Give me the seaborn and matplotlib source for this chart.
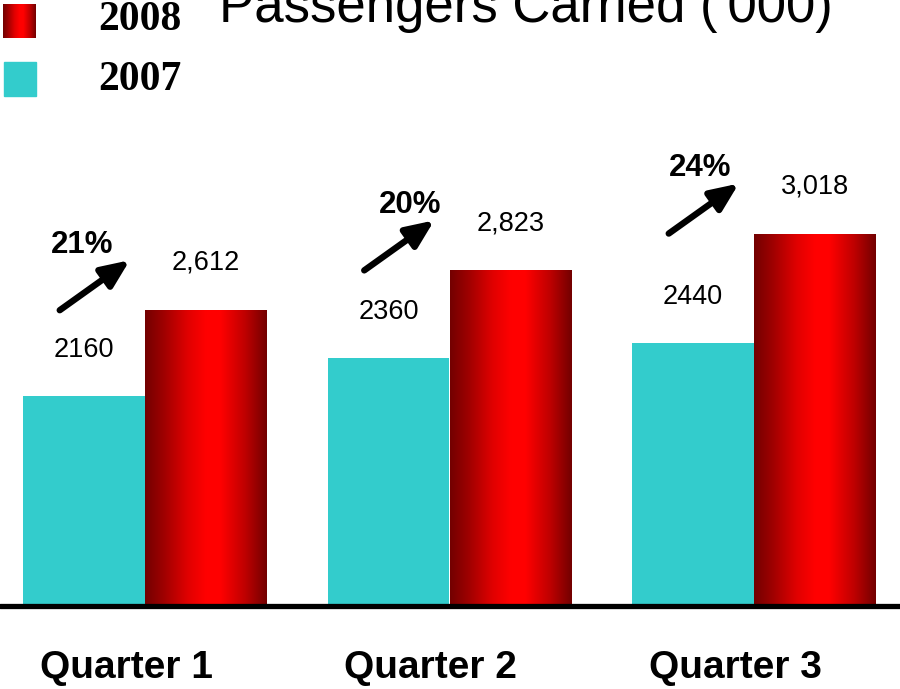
import numpy as np
import pandas as pd
import matplotlib
matplotlib.use("Agg")
import matplotlib.pyplot as plt
import matplotlib.transforms as mtransforms
from matplotlib.colors import LinearSegmentedColormap
import seaborn as sns

# Passengers carried, thousands
quarters = ["Quarter 1", "Quarter 2", "Quarter 3"]
pax_2007 = [2160, 2360, 2440]
pax_2008 = [2612, 2823, 3018]
labels_2007 = ["2160", "2360", "2440"]
labels_2008 = ["2,612", "2,823", "3,018"]
growth = ["21%", "20%", "24%"]

years = ["2007", "2008"]
cyan = "#33CCCC"

df = pd.DataFrame({
    "quarter": quarters * 2,
    "year": ["2007"] * 3 + ["2008"] * 3,
    "passengers": pax_2007 + pax_2008,
})

sns.set_theme(style="white")
plt.rcParams["font.family"] = ["Liberation Sans", "DejaVu Sans"]
plt.rcParams["text.color"] = "black"

W, H, DPI = 900, 689, 100
fig = plt.figure(figsize=(W / DPI, H / DPI), dpi=DPI)
base_px = 605.5
ax = fig.add_axes([0, (H - base_px) / H, 1, base_px / H])

sns.barplot(data=df, x="quarter", y="passengers", hue="year",
            hue_order=years, palette=[cyan, "#FF0000"], width=0.8,
            saturation=1, dodge=True, linewidth=0, ax=ax, legend=False)

# y scale: ~0.1888 px per thousand passengers, baseline near 1048
px_per_unit = 0.1888
ymin = 1048
gx0 = 145.0
gstep = 304.5

# Red cylinder-style shading on the 2008 bars
red_cmap = LinearSegmentedColormap.from_list(
    "redshade",
    [(0.0, (0.45, 0.0, 0.0)), (0.15, (0.62, 0.0, 0.0)), (0.35, (0.88, 0.0, 0.0)),
     (0.5, (1.0, 0.0, 0.0)), (0.62, (1.0, 0.0, 0.0)), (0.82, (0.75, 0.0, 0.0)),
     (1.0, (0.45, 0.0, 0.0))])
grad = np.linspace(0, 1, 256).reshape(1, -1)

patches = [p for p in ax.patches if p.get_height() > 0]
patches.sort(key=lambda p: p.get_x())
red_bars = patches[1::2]
for p in red_bars:
    x0, w = p.get_x(), p.get_width()
    y0, h = p.get_y(), p.get_height()
    im = ax.imshow(grad, cmap=red_cmap, aspect="auto",
                   extent=(x0, x0 + w, ymin, y0 + h), zorder=p.get_zorder() + 0.1)
    im.set_clip_path(p)
ax.set_xlim(-gx0 / gstep, (W - gx0) / gstep)
ax.set_ylim(ymin, ymin + base_px / px_per_unit)
ax.axis("off")

# Value labels above bars
for i in range(3):
    ax.annotate(labels_2007[i], xy=(i - 0.2, pax_2007[i]), xytext=(0, 33),
                textcoords="offset points", ha="center", va="center",
                fontsize=19.5, color="black")
    ax.annotate(labels_2008[i], xy=(i + 0.2, pax_2008[i]), xytext=(0, 34),
                textcoords="offset points", ha="center", va="center",
                fontsize=19.5, color="black")

# Growth arrows and percentages
pct_dx = [-0.207, -0.13, -0.178]
tip_shift = mtransforms.ScaledTranslation(0, 0.50, fig.dpi_scale_trans)
for i in range(3):
    ax.annotate("", xy=(i - 0.05, pax_2008[i]), xycoords=ax.transData + tip_shift,
                xytext=(i - 0.28, pax_2008[i]), textcoords="data",
                arrowprops=dict(arrowstyle="-|>,head_length=0.6,head_width=0.26",
                                lw=4.6, color="black", mutation_scale=28,
                                shrinkA=0, shrinkB=0))
    ax.annotate(growth[i], xy=(i + pct_dx[i], pax_2008[i]), xytext=(0, 47),
                textcoords="offset points", ha="center", va="center",
                fontsize=22.5, fontweight="bold", color="black")

# Baseline
ax.axhline(ymin, color="black", lw=3.8, clip_on=False, zorder=5)

# Quarter labels
for i, q in enumerate(quarters):
    fig.text((gx0 + i * gstep - 19) / W, 1 - 668 / H, q, ha="center", va="center",
             fontsize=28, fontweight="bold", color="black")

# Title
fig.text(526 / W, 1 - 22 / H, "Passengers Carried ('000)", ha="center",
         va="baseline", fontsize=38, color="black")

# Legend
leg_red = fig.add_axes([3 / W, 1 - 38 / H, 33 / W, 34 / H])
leg_red.imshow(grad, cmap=red_cmap, aspect="auto")
leg_red.axis("off")
fig.patches.append(plt.Rectangle((4 / W, 1 - 96 / H), 32 / W, 34 / H,
                                 transform=fig.transFigure, color=cyan))
for yr, yc in zip(["2008", "2007"], [20, 80]):
    fig.text(98 / W, 1 - yc / H, yr, ha="left", va="center", fontsize=30,
             fontweight="bold", color="black",
             family=["Liberation Serif", "DejaVu Serif"])

fig.savefig("out.png", dpi=DPI)
